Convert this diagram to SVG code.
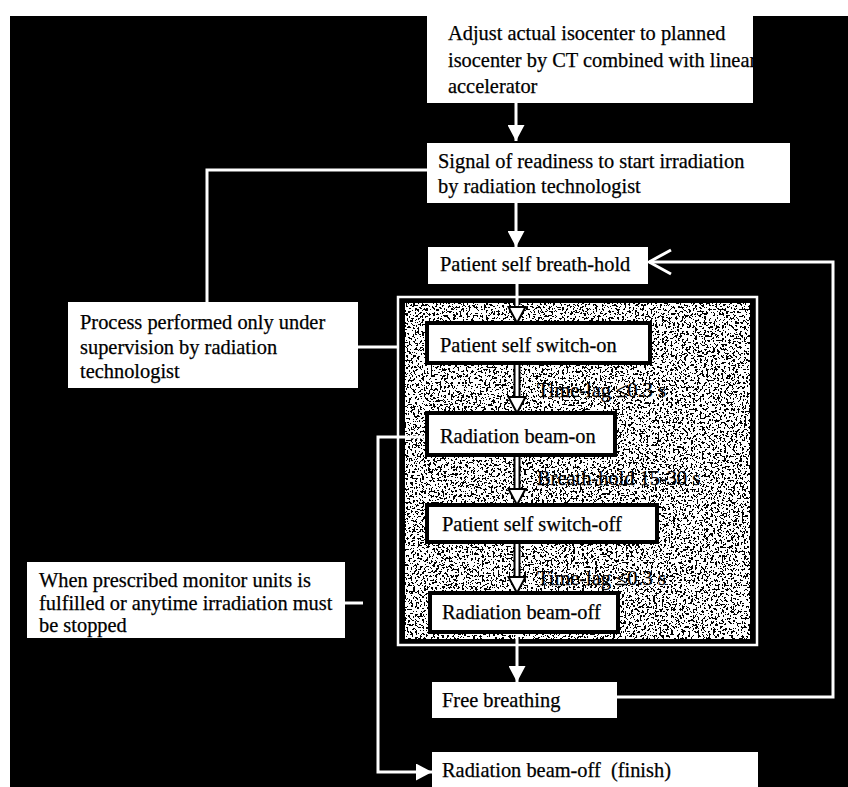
<svg xmlns="http://www.w3.org/2000/svg" width="848" height="787" viewBox="0 0 848 787">
<style>
.box{fill:#fff}
.ibox{fill:#fff;stroke:#000;stroke-width:4}
.t{font-family:"Liberation Serif","Times New Roman",serif;font-size:20.4px;fill:#000;stroke:#000;stroke-width:0.25}
.c{fill:none;stroke:#fff;stroke-width:3}
.co{fill:none;stroke:#000;stroke-width:7}
</style>
<defs>
<marker id="arr" viewBox="0 0 16 17" refX="16" refY="8.5" markerWidth="16" markerHeight="17" orient="auto" markerUnits="userSpaceOnUse">
<path d="M0,0 L16,8.5 L0,17 z" fill="#fff"/>
</marker>
<marker id="arrk" viewBox="-2 -2 20 21" refX="16" refY="8.5" markerWidth="20" markerHeight="21" orient="auto" markerUnits="userSpaceOnUse">
<path d="M0,0 L16,8.5 L0,17 z" fill="#fff" stroke="#000" stroke-width="2"/>
</marker>
<marker id="open" viewBox="0 0 26 28" refX="24" refY="14" markerWidth="26" markerHeight="28" orient="auto" markerUnits="userSpaceOnUse">
<path d="M2,2 L24,14 L2,26" fill="none" stroke="#fff" stroke-width="3"/>
</marker>
<filter id="noise" x="0" y="0" width="1" height="1" filterUnits="objectBoundingBox">
<feTurbulence type="fractalNoise" baseFrequency="0.45" numOctaves="3" seed="7" result="n"/>
<feColorMatrix in="n" type="saturate" values="0" result="g"/>
<feComponentTransfer in="g">
<feFuncR type="discrete" tableValues="0 0 0 0 1 1 1 1 1"/>
<feFuncG type="discrete" tableValues="0 0 0 0 1 1 1 1 1"/>
<feFuncB type="discrete" tableValues="0 0 0 0 1 1 1 1 1"/>
<feFuncA type="table" tableValues="1 1"/>
</feComponentTransfer>
</filter>
<clipPath id="topclip"><rect x="427" y="8" width="326" height="95"/></clipPath>
</defs>

<rect x="0" y="0" width="848" height="787" fill="#fff"/>
<rect x="10" y="16" width="838" height="771" fill="#000"/>

<g id="group-frame">
<rect x="398" y="297" width="359" height="348" fill="none" stroke="#fff" stroke-width="2.5"/>
<rect x="405" y="303" width="345" height="336" fill="#888" filter="url(#noise)"/>
</g>

<g id="connectors">
<path class="c" d="M516,103 V141" marker-end="url(#arr)"/>
<path class="c" d="M516,203 V247" marker-end="url(#arr)"/>
<path class="c" d="M427,170 H207 V302"/>
<path class="c" d="M358,347 H398"/>
<path class="co" d="M517,300 V305"/>
<path class="c" d="M517,284 V323" marker-end="url(#arrk)"/>
<path class="co" d="M517,363 V400"/>
<path class="c" d="M517,363 V413" marker-end="url(#arrk)"/>
<path class="co" d="M517,455 V492"/>
<path class="c" d="M517,455 V505" marker-end="url(#arrk)"/>
<path class="co" d="M517,542 V580"/>
<path class="c" d="M517,542 V593" marker-end="url(#arrk)"/>
<path class="c" d="M517,632 V682" marker-end="url(#arr)"/>
<path class="c" d="M617,697 H833 V262 H649" marker-end="url(#open)"/>
<path class="c" d="M427,437 H378 V772 H432" marker-end="url(#arr)"/>
<path class="c" d="M345,603 H363"/>
</g>

<g id="node-adjust">
<rect class="box" x="427" y="8" width="326" height="95"/>
<g clip-path="url(#topclip)">
<text class="t" x="448" y="40">Adjust actual isocenter to planned</text>
<text class="t" x="448" y="67">isocenter by CT combined with linear</text>
<text class="t" x="448" y="93">accelerator</text>
</g>
</g>

<g id="node-signal">
<rect class="box" x="427" y="143" width="363" height="60"/>
<text class="t" x="438" y="168">Signal of readiness to start irradiation</text>
<text class="t" x="438" y="193">by radiation technologist</text>
</g>

<g id="node-breathhold">
<rect class="box" x="428" y="247" width="220" height="37"/>
<text class="t" x="440" y="271">Patient self breath-hold</text>
</g>

<g id="node-process">
<rect class="box" x="68" y="302" width="290" height="86"/>
<text class="t" x="80" y="329">Process performed only under</text>
<text class="t" x="80" y="354">supervision by radiation</text>
<text class="t" x="80" y="378">technologist</text>
</g>

<g id="node-switchon">
<rect class="ibox" x="427" y="323" width="223" height="40"/>
<text class="t" x="440" y="352">Patient self switch-on</text>
</g>

<g id="label-lag1">
<text class="t" x="537" y="397">Time-lag ≤0.3 s</text>
</g>

<g id="node-beamon">
<rect class="ibox" x="427" y="413" width="188" height="42"/>
<text class="t" x="440" y="443">Radiation beam-on</text>
</g>

<g id="label-hold">
<text class="t" x="537" y="485">Breath-hold 15-30 s</text>
</g>

<g id="node-switchoff">
<rect class="ibox" x="427" y="505" width="230" height="37"/>
<text class="t" x="442" y="531">Patient self switch-off</text>
</g>

<g id="label-lag2">
<text class="t" x="537" y="585">Time-lag ≤0.3 s</text>
</g>

<g id="node-beamoff">
<rect class="ibox" x="430" y="593" width="188" height="39"/>
<text class="t" x="442" y="619">Radiation beam-off</text>
</g>

<g id="node-when">
<rect class="box" x="27" y="562" width="318" height="76"/>
<text class="t" x="39" y="587">When prescribed monitor units is</text>
<text class="t" x="39" y="610">fulfilled or anytime irradiation must</text>
<text class="t" x="39" y="632">be stopped</text>
</g>

<g id="node-free">
<rect class="box" x="432" y="682" width="185" height="36"/>
<text class="t" x="442" y="707">Free breathing</text>
</g>

<g id="node-finish">
<rect class="box" x="432" y="752" width="326" height="40"/>
<text class="t" x="442" y="777" xml:space="preserve">Radiation beam-off  (finish)</text>
</g>
</svg>
